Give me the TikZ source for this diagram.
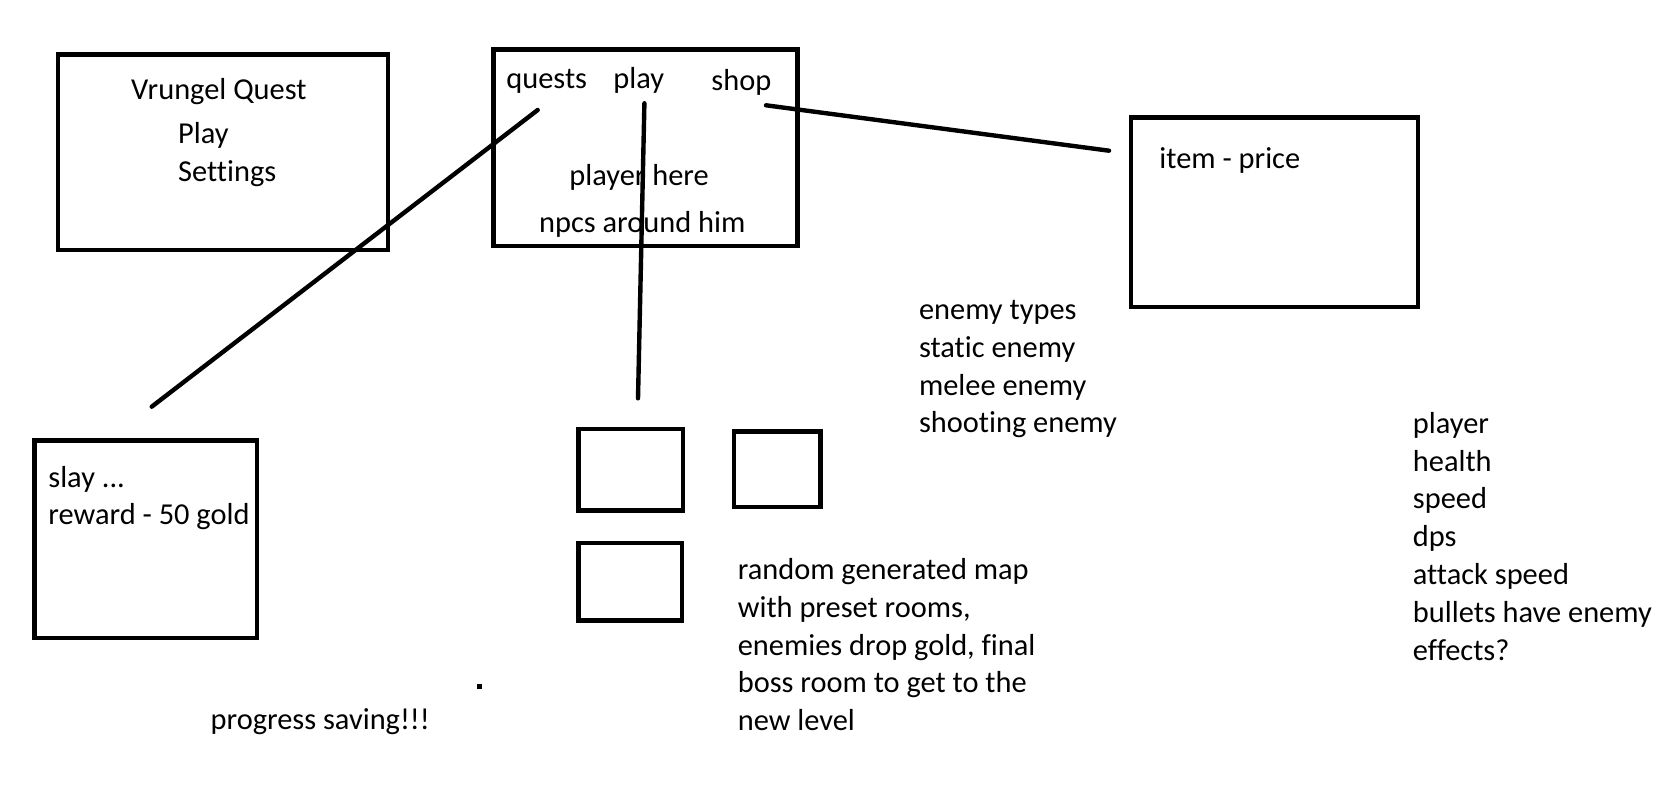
\documentclass[tikz,border=0pt]{standalone}
\usepackage{fontspec}
\setmainfont{Carlito}[Ligatures=NoCommon]
\usetikzlibrary{positioning}

\begin{document}
\begin{tikzpicture}[x=0.5pt, y=-0.5pt,
    sketchbox/.style={draw=black, line width=2.4pt, inner sep=0pt},
    sketchline/.style={draw=black, line width=2.2pt, line cap=round},
    txt/.style={anchor=base west, inner sep=0pt, font=\fontsize{15.2}{18.9}\selectfont}]
  \useasboundingbox (0,0) rectangle (1673,812);

  % ===== Main menu =====
  \node[sketchbox, minimum width=165pt, minimum height=97.75pt] (menu) at (223,152.25) {};
  \node[txt] (title) at (130.8,99.8) {Vrungel Quest};
  \node[txt] (menuplay) at (177.8,143.2) {Play};
  \node[txt] (settings) at (177.8,181.5) {Settings};

  % ===== Hub screen =====
  \node[sketchbox, minimum width=152pt, minimum height=98.25pt] (hub) at (645.5,147.75) {};
  \node[txt] (quests) at (506,88.5) {quests};
  \node[txt] (play) at (613,88.2) {play};
  \node[txt] (shop) at (711,90.8) {shop};
  \node[txt] (playerhere) at (569,185.5) {player here};
  \node[txt] (npcs) at (538.7,232.2) {npcs around him};

  % ===== Shop window =====
  \node[sketchbox, minimum width=143.5pt, minimum height=94.75pt] (shopbox) at (1274.5,212.25) {};
  \node[txt] (item) at (1159,168.2) {item - price};

  % ===== Quest window =====
  \node[sketchbox, minimum width=111.25pt, minimum height=98.75pt] (questbox) at (145.75,539.25) {};
  \node[txt] (slay) at (48,487.5) {slay ...};
  \node[txt] (reward) at (48,524.8) {reward - 50 gold};

  % ===== Map rooms =====
  \node[sketchbox, minimum width=52.25pt, minimum height=40.75pt] (roomA) at (630.75,469.75) {};
  \node[sketchbox, minimum width=43.25pt, minimum height=37.75pt] (roomB) at (777.25,469.25) {};
  \node[sketchbox, minimum width=51.75pt, minimum height=38.75pt] (roomC) at (630.25,581.75) {};

  % ===== Notes =====
  \foreach \t [count=\i from 0] in {enemy types, static enemy, melee enemy, shooting enemy} {
    \node[txt] (enemy\i) at (918.6,319.5+\i*37.8) {\t};
  }
  \foreach \t [count=\i from 0] in {random generated map, {with preset rooms,}, {enemies drop gold, final},
      boss room to get to the, new level} {
    \node[txt] (map\i) at (737.4,579.8+\i*37.7) {\t};
  }
  \foreach \t [count=\i from 0] in {player, health, speed, dps, attack speed, bullets have enemy, effects?} {
    \node[txt] (stat\i) at (1412.5,433.2+\i*37.8) {\t};
  }
  \node[txt] (progress) at (210.3,729.8) {progress saving!!!};
  \fill[black] (477,684) rectangle (482,689);

  % ===== Connectors =====
  \coordinate (questsend) at (537.7,110);
  \coordinate (questsfree) at (151.7,406.7);
  \coordinate (playend) at (644.4,103.3);
  \coordinate (playfree) at (638,398.3);
  \coordinate (shopend) at (766,105.3);
  \coordinate (shopfree) at (1109,150.7);
  \draw[sketchline] (questsend) -- (questsfree);
  \draw[sketchline] (playend) -- (playfree);
  \draw[sketchline] (shopend) -- (shopfree);
\end{tikzpicture}
\end{document}
